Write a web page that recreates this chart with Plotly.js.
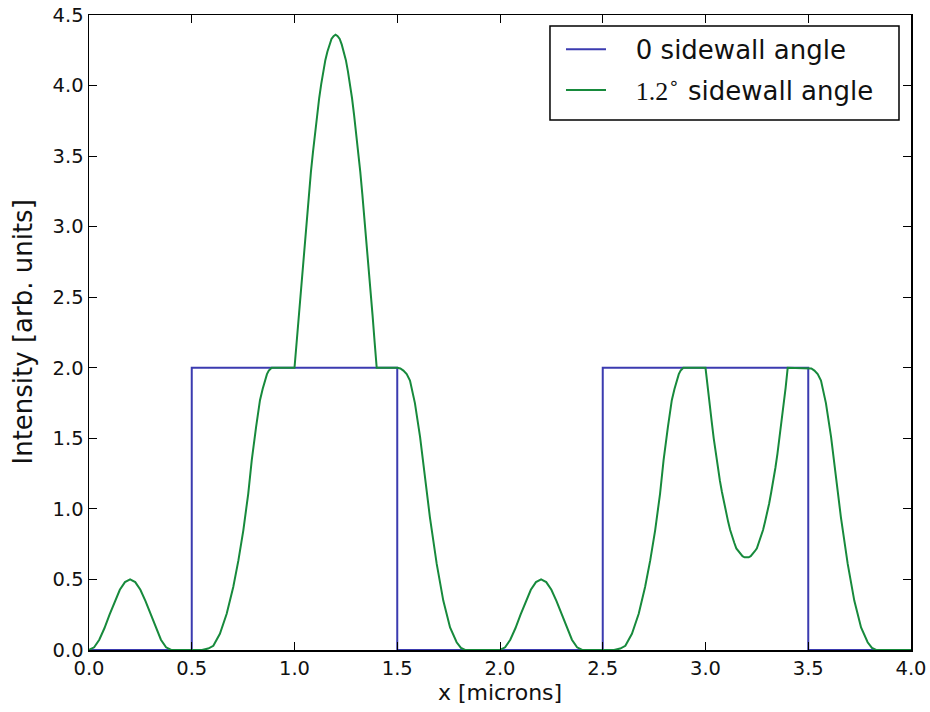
<!DOCTYPE html>
<html>
<head>
<meta charset="utf-8">
<script src="https://cdn.plot.ly/plotly-3.0.1.min.js"></script>
<style>
html,body{margin:0;padding:0;background:#fff;}
#chart{width:930px;height:712px;}
</style>
</head>
<body>
<div id="chart"></div>
<script>
// Series 1: 0 sidewall angle (step profile)
var blueX = [0, 0.5, 0.5, 1.5, 1.5, 2.5, 2.5, 3.5, 3.5, 4.0];
var blueY = [0, 0,   2,   2,   0,   0,   2,   2,   0,   0];

// Series 2: 1.2 degree sidewall angle
var greenX = [
  0.000, 0.025, 0.050, 0.075, 0.100, 0.125, 0.150, 0.175, 0.200, 0.225, 0.250, 0.275, 0.300, 0.325, 0.350, 0.375, 0.400,
  0.550, 0.580, 0.605, 0.637, 0.670, 0.702, 0.727, 0.751, 0.775, 0.792, 0.813, 0.832, 0.845, 0.856, 0.866, 0.875, 0.889,
  1.00, 1.01, 1.02, 1.03, 1.04, 1.05, 1.06, 1.07, 1.08, 1.09, 1.10, 1.11, 1.12, 1.13, 1.14, 1.15, 1.16, 1.17, 1.18, 1.19,
  1.20, 1.21, 1.22, 1.23, 1.24, 1.25, 1.26, 1.27, 1.28, 1.29, 1.30, 1.31, 1.32, 1.33, 1.34, 1.35, 1.36, 1.37, 1.38, 1.39, 1.40,
  1.500, 1.515, 1.530, 1.546, 1.562, 1.586, 1.611, 1.635, 1.659, 1.692, 1.724, 1.757, 1.789, 1.810, 1.830,
  2.000, 2.025, 2.050, 2.075, 2.100, 2.125, 2.150, 2.175, 2.200, 2.225, 2.250, 2.275, 2.300, 2.325, 2.350, 2.375, 2.400,
  2.555, 2.585, 2.610, 2.642, 2.675, 2.706, 2.731, 2.755, 2.779, 2.796, 2.817, 2.836, 2.849, 2.860, 2.870, 2.879, 2.892,
  3.00, 3.01, 3.02, 3.03, 3.04, 3.05, 3.06, 3.07, 3.08, 3.09, 3.10, 3.11, 3.12, 3.13, 3.14, 3.15, 3.16, 3.17, 3.18, 3.19,
  3.20, 3.21, 3.22, 3.23, 3.24, 3.25, 3.26, 3.27, 3.28, 3.29, 3.30, 3.31, 3.32, 3.33, 3.34, 3.35, 3.36, 3.37, 3.38, 3.39, 3.40,
  3.500, 3.515, 3.530, 3.546, 3.562, 3.586, 3.611, 3.635, 3.659, 3.692, 3.724, 3.757, 3.789, 3.810, 3.830,
  4.000
];
var greenY = [
  0.000, 0.019, 0.073, 0.154, 0.250, 0.346, 0.427, 0.481, 0.500, 0.481, 0.427, 0.346, 0.250, 0.154, 0.073, 0.019, 0.000,
  0.000, 0.010, 0.030, 0.115, 0.257, 0.446, 0.635, 0.848, 1.109, 1.345, 1.580, 1.770, 1.850, 1.910, 1.955, 1.980, 2.000,
  2.00, 2.18, 2.37, 2.55, 2.73, 2.90, 3.07, 3.23, 3.39, 3.53, 3.67, 3.79, 3.91, 4.01, 4.10, 4.18, 4.24, 4.29, 4.33, 4.35,
  4.36, 4.35, 4.33, 4.29, 4.24, 4.18, 4.10, 4.01, 3.91, 3.79, 3.67, 3.53, 3.39, 3.23, 3.07, 2.90, 2.73, 2.55, 2.37, 2.18, 2.00,
  2.000, 1.995, 1.980, 1.955, 1.910, 1.750, 1.510, 1.230, 0.940, 0.610, 0.350, 0.160, 0.055, 0.015, 0.000,
  0.000, 0.019, 0.073, 0.154, 0.250, 0.346, 0.427, 0.481, 0.500, 0.481, 0.427, 0.346, 0.250, 0.154, 0.073, 0.019, 0.000,
  0.000, 0.010, 0.030, 0.115, 0.257, 0.446, 0.635, 0.848, 1.109, 1.345, 1.580, 1.770, 1.850, 1.910, 1.955, 1.980, 2.000,
  2.00, 1.86, 1.74, 1.62, 1.50, 1.39, 1.29, 1.20, 1.12, 1.04, 0.97, 0.91, 0.85, 0.80, 0.76, 0.72, 0.70, 0.68, 0.665, 0.657,
  0.655, 0.657, 0.665, 0.68, 0.70, 0.72, 0.76, 0.80, 0.85, 0.91, 0.97, 1.04, 1.12, 1.20, 1.29, 1.39, 1.50, 1.62, 1.74, 1.86, 2.00,
  2.000, 1.995, 1.980, 1.955, 1.910, 1.750, 1.510, 1.230, 0.940, 0.610, 0.350, 0.160, 0.055, 0.015, 0.000,
  0.000
];

var pad = '\u00a0\u00a0\u00a0';
var seriesNames = [
  pad + '0 sidewall angle',
  pad + '<span style="font-family:\'Liberation Serif\'">1.2</span><sup>∘</sup> sidewall angle'
];
var xTickVals = [0, 0.5, 1.0, 1.5, 2.0, 2.5, 3.0, 3.5, 4.0];
var yTickVals = [0, 0.5, 1.0, 1.5, 2.0, 2.5, 3.0, 3.5, 4.0, 4.5];
var xTitle = 'x [microns]';
var yTitle = 'Intensity [arb. units]';

var font = 'DejaVu Sans, sans-serif';

var traces = [
  {x: blueX, y: blueY, mode: 'lines', name: seriesNames[0], legendgroup: 'a',
   line: {color: '#3b3bb0', width: 2}},
  {x: greenX, y: greenY, mode: 'lines', name: seriesNames[1], legendgroup: 'b',
   line: {color: '#178a3c', width: 2}}
];

var axisCommon = {
  showgrid: false, zeroline: false, showline: true, mirror: 'ticks',
  linecolor: '#000', linewidth: 1.5, ticks: 'inside', ticklen: 8, tickwidth: 1,
  tickcolor: '#000', tickformat: '.1f',
  tickfont: {family: font, size: 19.5, color: '#111'}
};

var layout = {
  width: 930, height: 712,
  margin: {l: 89, r: 19, t: 15, b: 62},
  paper_bgcolor: '#fff', plot_bgcolor: '#fff',
  showlegend: true,
  xaxis: Object.assign({}, axisCommon, {
    range: [0, 4], tickvals: xTickVals,
    title: {text: xTitle, font: {family: font, size: 22, color: '#111'}, standoff: 4}
  }),
  yaxis: Object.assign({}, axisCommon, {
    range: [0, 4.5], tickvals: yTickVals
  }),
  annotations: [{
    text: yTitle, xref: 'paper', yref: 'paper', x: -0.0815, y: 0.5,
    xanchor: 'center', yanchor: 'middle', textangle: -90, showarrow: false,
    font: {family: font, size: 26, color: '#111'}
  }],
  legend: {
    x: 0.5742, y: 0.983, xanchor: 'left', yanchor: 'top',
    bgcolor: 'rgba(0,0,0,0)', borderwidth: 0,
    font: {family: font, size: 26, color: '#111'},
    traceorder: 'grouped', tracegroupgap: 4, itemwidth: 40
  },
  shapes: [{
    type: 'rect', xref: 'paper', yref: 'paper',
    x0: 0.5608, x1: 0.9854, y0: 0.8346, y1: 0.9827,
    line: {color: '#000', width: 1.5}, fillcolor: '#fff', layer: 'above'
  }]
};

Plotly.newPlot('chart', traces, layout, {staticPlot: true, displayModeBar: false});
</script>
</body>
</html>
